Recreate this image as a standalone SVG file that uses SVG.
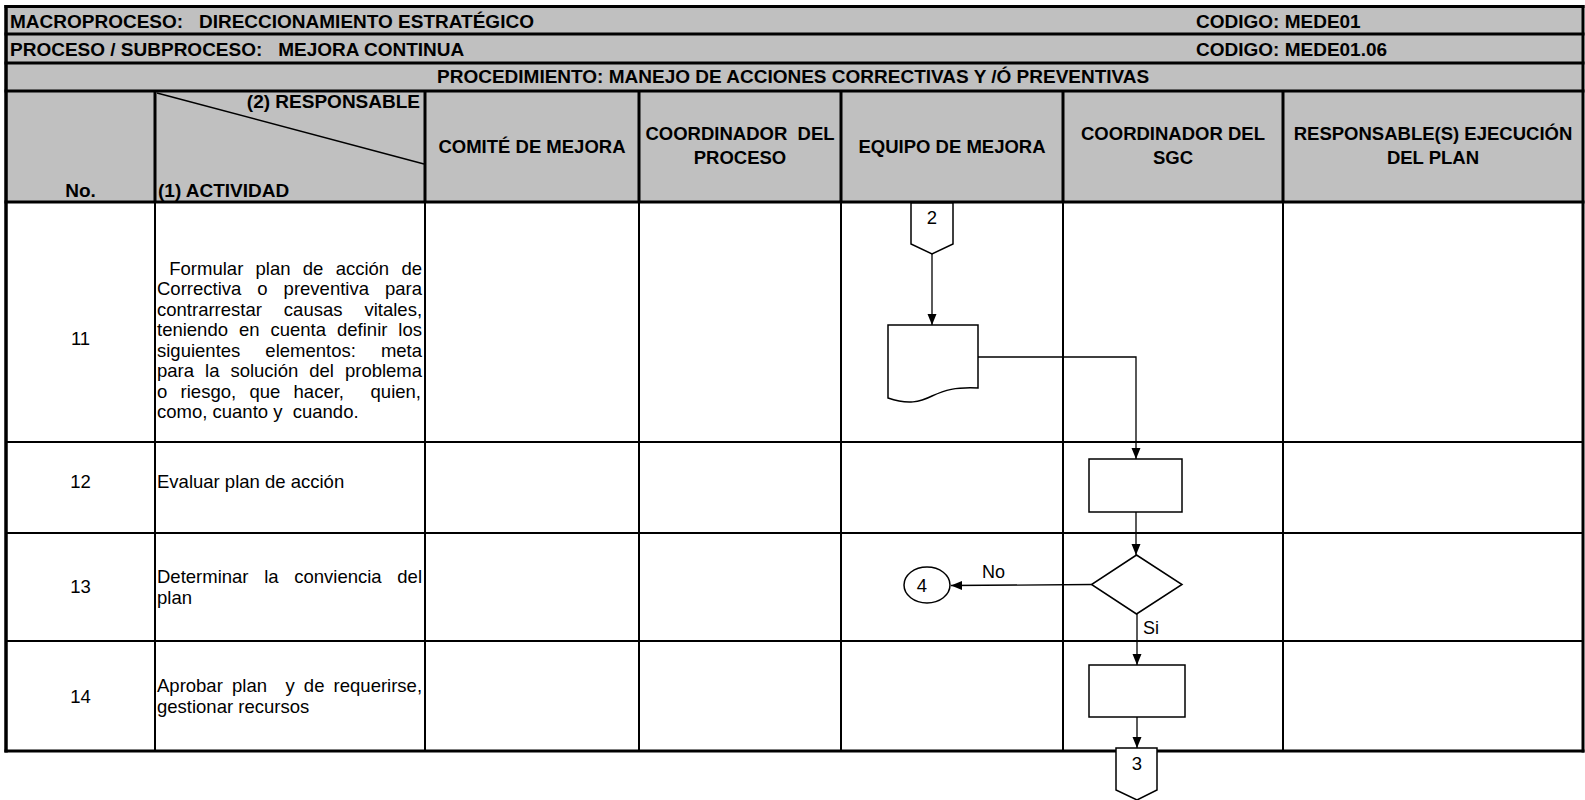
<svg xmlns="http://www.w3.org/2000/svg" width="1585" height="800" viewBox="0 0 1585 800">
<style>
.hb{font-family:"Liberation Sans",Arial,sans-serif;font-weight:bold;font-size:19px;fill:#000}
.ch{font-family:"Liberation Sans",Arial,sans-serif;font-weight:bold;font-size:18.5px;fill:#000;text-anchor:middle}
.bt{font-family:"Liberation Sans",Arial,sans-serif;font-size:18.5px;fill:#000}
.num{font-family:"Liberation Sans",Arial,sans-serif;font-size:18.5px;fill:#000;text-anchor:middle}
.lbl{font-family:"Liberation Sans",Arial,sans-serif;font-size:18px;fill:#000}
.thick{stroke:#000;stroke-width:3;fill:none}
.thin{stroke:#000;stroke-width:2;fill:none}
.shape{stroke:#000;stroke-width:1.5;fill:#fff}
.conn{stroke:#000;stroke-width:1.3;fill:none}
</style>
<defs>
<marker id="arr" markerUnits="userSpaceOnUse" markerWidth="12" markerHeight="12" viewBox="0 0 12 12" refX="11" refY="6" orient="auto">
<path d="M0,1.5 L11,6 L0,10.5 Z" fill="#000"/>
</marker>
</defs>
<rect x="0" y="0" width="1585" height="800" fill="#fff"/>
<g id="table">
<rect x="6" y="6.5" width="1577" height="195.5" fill="#c0c0c0"/>
<path class="thick" d="M4.5,6.5 H1584.5 M4.5,34 H1584.5 M4.5,63 H1584.5 M4.5,91 H1584.5 M4.5,202 H1584.5"/>
<path class="thick" d="M155,91 V202 M425,91 V202 M639,91 V202 M841,91 V202 M1063,91 V202 M1283,91 V202"/>
<path class="thin" d="M155,202 V751 M425,202 V751 M639,202 V751 M841,202 V751 M1063,202 V751 M1283,202 V751"/>
<path class="thin" d="M5,442 H1584 M5,533 H1584 M5,641 H1584"/>
<path class="thick" d="M4.5,751 H1584.5"/>
<path d="M6,5 V752.5" stroke="#000" stroke-width="3.5"/>
<path d="M1583,5 V752.5" stroke="#000" stroke-width="3"/>
<path d="M157,93 L424,164" stroke="#000" stroke-width="1.5"/>
</g>
<g id="header-text">
<text class="hb" x="10" y="28" xml:space="preserve">MACROPROCESO:   DIRECCIONAMIENTO ESTRATÉGICO</text>
<text class="hb" x="1196" y="28">CODIGO: MEDE01</text>
<text class="hb" x="10" y="56" xml:space="preserve">PROCESO / SUBPROCESO:   MEJORA CONTINUA</text>
<text class="hb" x="1196" y="56">CODIGO: MEDE01.06</text>
<text class="hb" x="437" y="83">PROCEDIMIENTO: MANEJO DE ACCIONES CORRECTIVAS Y /Ó PREVENTIVAS</text>
<text class="hb" x="420" y="108" text-anchor="end">(2) RESPONSABLE</text>
<text class="hb" x="158" y="197">(1) ACTIVIDAD</text>
<text class="hb" x="80.5" y="197" text-anchor="middle">No.</text>
<text class="ch" x="532" y="153">COMITÉ DE MEJORA</text>
<text class="ch" x="740" y="140" xml:space="preserve">COORDINADOR  DEL</text>
<text class="ch" x="740" y="164">PROCESO</text>
<text class="ch" x="952" y="153">EQUIPO DE MEJORA</text>
<text class="ch" x="1173" y="140">COORDINADOR DEL</text>
<text class="ch" x="1173" y="164">SGC</text>
<text class="ch" x="1433" y="140">RESPONSABLE(S) EJECUCIÓN</text>
<text class="ch" x="1433" y="164">DEL PLAN</text>
</g>
<g id="row-11">
<text class="num" x="80.5" y="344.5">11</text>
<text class="bt" x="157" y="274.5" xml:space="preserve" word-spacing="7.14"> Formular plan de acción de</text>
<text class="bt" x="157" y="295" word-spacing="10.87">Correctiva o preventiva para</text>
<text class="bt" x="157" y="315.5" word-spacing="16.84">contrarrestar causas vitales,</text>
<text class="bt" x="157" y="336" word-spacing="5.83">teniendo en cuenta definir los</text>
<text class="bt" x="157" y="356.5" word-spacing="19.9">siguientes elementos: meta</text>
<text class="bt" x="157" y="377" word-spacing="5.85">para la solución del problema</text>
<text class="bt" x="157" y="397.5" xml:space="preserve" word-spacing="8.16">o riesgo, que hacer,  quien,</text>
<text class="bt" x="157" y="418" xml:space="preserve">como, cuanto y  cuando.</text>
</g>
<g id="row-12">
<text class="num" x="80.5" y="487.5">12</text>
<text class="bt" x="157" y="487.5">Evaluar plan de acción</text>
</g>
<g id="row-13">
<text class="num" x="80.5" y="593">13</text>
<text class="bt" x="157" y="583" word-spacing="10.53">Determinar la conviencia del</text>
<text class="bt" x="157" y="603.5">plan</text>
</g>
<g id="row-14">
<text class="num" x="80.5" y="703">14</text>
<text class="bt" x="157" y="692" xml:space="preserve" word-spacing="4.06">Aprobar plan  y de requerirse,</text>
<text class="bt" x="157" y="712.5">gestionar recursos</text>
</g>
<g id="connectors">
<path class="conn" d="M932,254 V325" marker-end="url(#arr)"/>
<path class="conn" d="M978,357 H1136 V459" marker-end="url(#arr)"/>
<path class="conn" d="M1136,512 V555" marker-end="url(#arr)"/>
<path class="conn" d="M1091.5,584.5 L951,585.5" marker-end="url(#arr)"/>
<path class="conn" d="M1137,614 V665" marker-end="url(#arr)"/>
<path class="conn" d="M1137,717 V748" marker-end="url(#arr)"/>
<text class="lbl" x="982" y="578">No</text>
<text class="lbl" x="1143" y="634">Si</text>
</g>
<g id="offpage-2">
<polygon class="shape" points="911,203 953,203 953,244 932,254 911,244"/>
<text class="num" x="932" y="224">2</text>
</g>
<g id="doc-formular">
<path class="shape" d="M888,325 H978 V388 C955,387 945,390 932,396 C920,402 908,405 888,398 Z"/>
</g>
<g id="proc-evaluar">
<rect class="shape" x="1089" y="459" width="93" height="53"/>
</g>
<g id="dec-conveniencia">
<polygon class="shape" points="1136.5,555 1182,584.5 1136.5,614 1091.5,584.5"/>
</g>
<g id="conn-4">
<ellipse class="shape" cx="927" cy="585" rx="23" ry="18"/>
<text class="num" x="922" y="591.5">4</text>
</g>
<g id="proc-aprobar">
<rect class="shape" x="1089" y="665" width="96" height="52"/>
</g>
<g id="offpage-3">
<polygon class="shape" points="1116,748 1157,748 1157,790 1137,800 1116,790"/>
<text class="num" x="1137" y="770">3</text>
</g>
</svg>
